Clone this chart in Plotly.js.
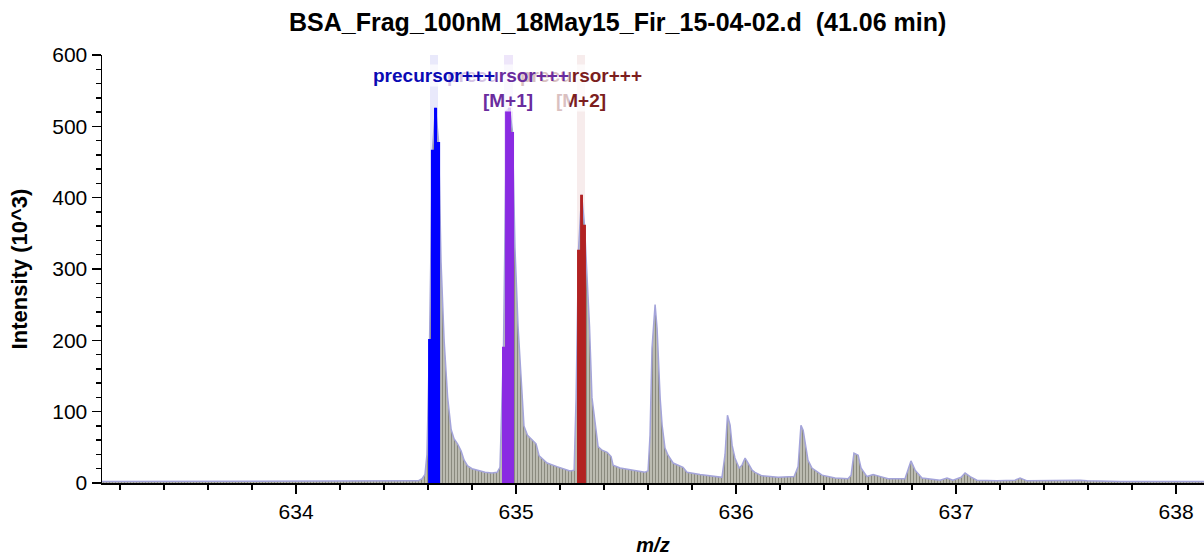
<!DOCTYPE html>
<html>
<head>
<meta charset="utf-8">
<script src="https://cdn.plot.ly/plotly-3.0.1.min.js"></script>
<style>html,body{margin:0;padding:0;background:#fff;}#chart{width:1204px;height:556px;}</style>
</head>
<body>
<div id="chart"></div>
<script>
// Spectrum profile (m/z, intensity x10^3)
const profileMz = [633.118, 633.564, 634.018, 634.473, 634.555, 634.573, 634.586, 634.595,
  634.607, 634.620, 634.634, 634.648,
  634.659, 634.673, 634.689, 634.705, 634.718, 634.734, 634.750, 634.764, 634.780, 634.800, 634.830, 634.859, 634.891, 634.914, 634.927,
  634.943, 634.957, 634.970, 634.984,
  634.995, 635.009, 635.023, 635.036, 635.052, 635.073, 635.091, 635.105, 635.141, 635.186, 635.245, 635.264, 635.273,
  635.284, 635.298, 635.311,
  635.323, 635.334, 635.345, 635.357, 635.366, 635.373, 635.391, 635.414, 635.432, 635.441, 635.473, 635.541, 635.586, 635.600,
  635.609, 635.618, 635.632, 635.641, 635.648, 635.655, 635.664, 635.677, 635.691, 635.714, 635.759, 635.777, 635.836, 635.918, 635.936,
  635.950, 635.961, 635.973, 635.982, 635.995, 636.014, 636.027, 636.041, 636.055, 636.073, 636.086, 636.118, 636.191, 636.264,
  636.282, 636.295, 636.305, 636.314, 636.327, 636.345, 636.391, 636.450, 636.509, 636.523, 636.536, 636.555, 636.568, 636.595,
  636.623, 636.645, 636.691, 636.768, 636.782, 636.795, 636.814, 636.845, 636.927, 636.959, 636.986, 637.023, 637.041, 637.064,
  637.095, 637.186, 637.268, 637.291, 637.323, 637.550, 637.564, 637.595, 637.745, 638.127];
const profileInt = [2, 2, 2, 2, 3, 6, 12, 40,
  202, 467, 526, 478,
  310, 200, 120, 75, 62, 55, 45, 32, 24, 20, 17, 15, 14, 15, 22,
  191, 522, 526, 492,
  330, 220, 140, 80, 67, 60, 55, 38, 28, 23, 17, 18, 120,
  327, 404, 362,
  289, 219, 120, 91, 70, 51, 46, 43, 37, 25, 21, 18, 15, 17,
  67, 189, 250, 217, 169, 119, 81, 49, 39, 28, 22, 15, 12, 8, 8,
  40, 95, 81, 53, 35, 21, 25, 35, 28, 18, 15, 10, 8, 9,
  23, 81, 74, 56, 32, 21, 11, 7, 6, 11, 42, 39, 21, 9,
  12, 10, 6, 6, 18, 31, 18, 7, 4, 7, 4, 8, 14, 9,
  4, 3, 4, 7, 3, 4, 4, 3, 2, 2];

// Highlighted isotope sticks
const mMz = [634.607, 634.620, 634.634, 634.648];
const mInt = [202, 467, 526, 478];
const m1Mz = [634.943, 634.957, 634.970, 634.984];
const m1Int = [191, 522, 526, 492];
const m2Mz = [635.284, 635.298, 635.311];
const m2Int = [327, 404, 362];

// Isotope label positions and texts
const labelMz = [634.627, 634.965, 635.295];
const labelText = ['precursor+++', 'precursor+++<br>[M+1]', 'precursor+++<br>[M+2]'];
const bandTop = [600, 600, 600];

const stickColors = ['#0000ff', '#8a2be2', '#b22222'];
const labelColors = ['#0a0ab4', '#6a2c9e', '#7c1e1e'];
const bandColors = ['rgba(225,225,250,0.75)', 'rgba(232,222,248,0.75)', 'rgba(246,234,234,0.9)'];

function stickTrace(xs, ys, color) {
  const n = xs.length;
  const hw = (xs[n - 1] - xs[0]) / (n - 1) / 2;
  const px = xs.map(x => x - hw).concat([xs[n - 1] + hw]);
  const py = ys.concat([ys[n - 1]]);
  return {x: px, y: py, type: 'scatter', mode: 'lines', line: {shape: 'hv', width: 0, color: color},
    fill: 'tozeroy', fillcolor: color, hoverinfo: 'skip', showlegend: false};
}

const font = "Arial, 'Liberation Sans', Helvetica, sans-serif";

const traces = [
  {x: labelMz, y: bandTop, type: 'bar', width: 0.038, marker: {color: bandColors, line: {width: 0}},
   hoverinfo: 'skip', showlegend: false},
  {x: profileMz, y: profileInt, type: 'scatter', mode: 'lines',
   line: {color: '#a4a4da', width: 1.5},
   fill: 'tozeroy', fillcolor: '#cdcdc2',
   fillpattern: {shape: '|', fgcolor: '#8a8a7e', bgcolor: '#d2d2c8', size: 3, solidity: 0.55},
   hoverinfo: 'skip', showlegend: false},
  stickTrace(m2Mz, m2Int, stickColors[2]),
  stickTrace(m1Mz, m1Int, stickColors[1]),
  stickTrace(mMz, mInt, stickColors[0])
];

const annotations = [2, 1, 0].map(i => ({
  x: labelMz[i], y: 588, xref: 'x', yref: 'y', xanchor: 'center', yanchor: 'top',
  text: labelText[i], showarrow: false,
  font: {family: font, size: 19, weight: 'bold', color: labelColors[i]},
  bgcolor: 'rgba(255,255,255,0.72)', borderpad: 0
}));

const layout = {
  width: 1204, height: 556,
  margin: {l: 102, r: 0, t: 55, b: 73, pad: 0},
  paper_bgcolor: '#ffffff', plot_bgcolor: '#ffffff',
  barmode: 'overlay', bargap: 0,
  showlegend: false,
  font: {family: font, color: '#000'},
  title: {text: 'BSA_Frag_100nM_18May15_Fir_15-04-02.d\u00a0 (41.06 min)',
    x: 0.513, xanchor: 'center', xref: 'container', y: 0.96, yanchor: 'middle', yref: 'container',
    font: {family: font, size: 25, weight: 'bold', color: '#000'}},
  xaxis: {range: [633.118, 638.127], tick0: 634, dtick: 1, ticks: 'outside', ticklen: 9, tickwidth: 1.5,
    tickcolor: '#000', showline: true, linecolor: '#000', linewidth: 1.5, showgrid: false, zeroline: false,
    tickfont: {family: font, size: 21, color: '#000'},
    minor: {tick0: 634, dtick: 0.2, ticks: 'outside', ticklen: 5, tickwidth: 1.5, tickcolor: '#000', showgrid: false},
    automargin: false,
    title: {text: 'm/z', standoff: 16, font: {family: font, size: 20, weight: 'bold', style: 'italic', color: '#000'}}},
  yaxis: {range: [0, 600], tick0: 0, dtick: 100, ticks: 'outside', ticklen: 9, tickwidth: 1.5,
    tickcolor: '#000', showline: true, linecolor: '#000', linewidth: 1.5, showgrid: false, zeroline: false,
    tickfont: {family: font, size: 21, color: '#000'},
    minor: {tick0: 0, dtick: 20, ticks: 'outside', ticklen: 5, tickwidth: 1.5, tickcolor: '#000', showgrid: false},
    automargin: true,
    title: {text: 'Intensity (10^3)', standoff: 18, font: {family: font, size: 22, weight: 'bold', color: '#000'}}},
  annotations: annotations
};

Plotly.newPlot('chart', traces, layout, {staticPlot: true, displayModeBar: false});
</script>
</body>
</html>
